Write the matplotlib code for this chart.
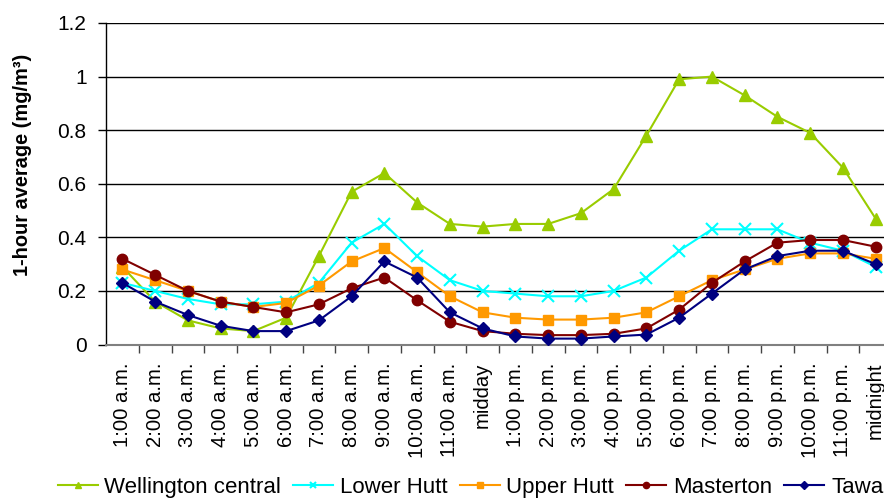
import numpy as np
import matplotlib
matplotlib.use('Agg')
from matplotlib import pyplot as plt

plt.rcParams['font.family'] = ['Liberation Sans', 'DejaVu Sans']

hours = ['1:00 a.m.', '2:00 a.m.', '3:00 a.m.', '4:00 a.m.', '5:00 a.m.', '6:00 a.m.',
         '7:00 a.m.', '8:00 a.m.', '9:00 a.m.', '10:00 a.m.', '11:00 a.m.', 'midday',
         '1:00 p.m.', '2:00 p.m.', '3:00 p.m.', '4:00 p.m.', '5:00 p.m.', '6:00 p.m.',
         '7:00 p.m.', '8:00 p.m.', '9:00 p.m.', '10:00 p.m.', '11:00 p.m.', 'midnight']

wellington = [0.29, 0.16, 0.09, 0.06, 0.05, 0.10, 0.33, 0.57, 0.64, 0.53, 0.45, 0.44,
              0.45, 0.45, 0.49, 0.58, 0.78, 0.99, 1.00, 0.93, 0.85, 0.79, 0.66, 0.47]
lower_hutt = [0.23, 0.20, 0.17, 0.15, 0.15, 0.16, 0.23, 0.38, 0.45, 0.33, 0.24, 0.20,
              0.19, 0.18, 0.18, 0.20, 0.25, 0.35, 0.43, 0.43, 0.43, 0.38, 0.35, 0.29]
upper_hutt = [0.28, 0.24, 0.20, 0.16, 0.14, 0.155, 0.22, 0.31, 0.36, 0.27, 0.18, 0.12,
              0.10, 0.093, 0.093, 0.10, 0.12, 0.18, 0.24, 0.28, 0.32, 0.34, 0.34, 0.32]
masterton = [0.32, 0.26, 0.20, 0.16, 0.14, 0.12, 0.15, 0.21, 0.25, 0.165, 0.085, 0.05,
             0.04, 0.035, 0.035, 0.04, 0.06, 0.13, 0.23, 0.31, 0.38, 0.39, 0.39, 0.365]
tawa = [0.23, 0.16, 0.11, 0.07, 0.05, 0.05, 0.09, 0.18, 0.31, 0.25, 0.12, 0.06,
        0.03, 0.022, 0.022, 0.03, 0.037, 0.10, 0.19, 0.28, 0.33, 0.35, 0.35, 0.30]

fig = plt.figure(figsize=(8.84, 5.0), dpi=100)
ax = fig.add_axes([106 / 884, 1 - 344.5 / 500, 786 / 884, 321.5 / 500])

x = np.arange(len(hours))
ax.plot(x, wellington, color='#99CC00', lw=1.5, marker='^', ms=8, label='Wellington central', zorder=3)
ax.plot(x, lower_hutt, color='#00FFFF', lw=1.5, marker='x', ms=8, mew=1.5, label='Lower Hutt', zorder=3)
ax.plot(x, upper_hutt, color='#FF9900', lw=1.5, marker='s', ms=7, label='Upper Hutt', zorder=3)
ax.plot(x, masterton, color='#800000', lw=1.5, marker='o', ms=7.5, label='Masterton', zorder=3)
ax.plot(x, tawa, color='#000080', lw=1.5, marker='D', ms=6.5, label='Tawa', zorder=3)

ax.set_xlim(-0.5, len(hours) - 0.5)
ax.set_ylim(0, 1.2)
ax.set_yticks(np.arange(0, 1.21, 0.2))
ax.set_yticklabels(['0', '0.2', '0.4', '0.6', '0.8', '1', '1.2'], fontsize=15)
ax.grid(axis='y', color='black', lw=1.0)
ax.set_axisbelow(True)

ax.set_xticks(x)
ax.set_xticklabels(hours, rotation=90, fontsize=14.6)
ax.set_xticks(np.arange(0.5, len(hours) - 1, 1), minor=True)
ax.tick_params(axis='x', which='major', length=0, pad=13)
ax.tick_params(axis='x', which='minor', length=6, width=1, color='#444444')
ax.tick_params(axis='y', length=6, width=1, pad=8)

for s in ['top', 'right']:
    ax.spines[s].set_visible(False)
ax.spines['bottom'].set_color('#808080')
ax.spines['bottom'].set_linewidth(1.5)
ax.spines['left'].set_linewidth(1.0)

ax.set_ylabel('1-hour average (mg/m³)', fontsize=14.4, fontweight='bold')
ax.yaxis.set_label_coords(-0.094, 0.56)

# legend runs off the right edge in the original too
fig.legend(loc='lower left', bbox_to_anchor=(0.055, -0.014), ncol=5, frameon=False,
           fontsize=16, handlelength=1.8, handletextpad=0.3, columnspacing=0.55,
           markerscale=0.6, borderaxespad=0)

fig.savefig('out.png', dpi=100)
